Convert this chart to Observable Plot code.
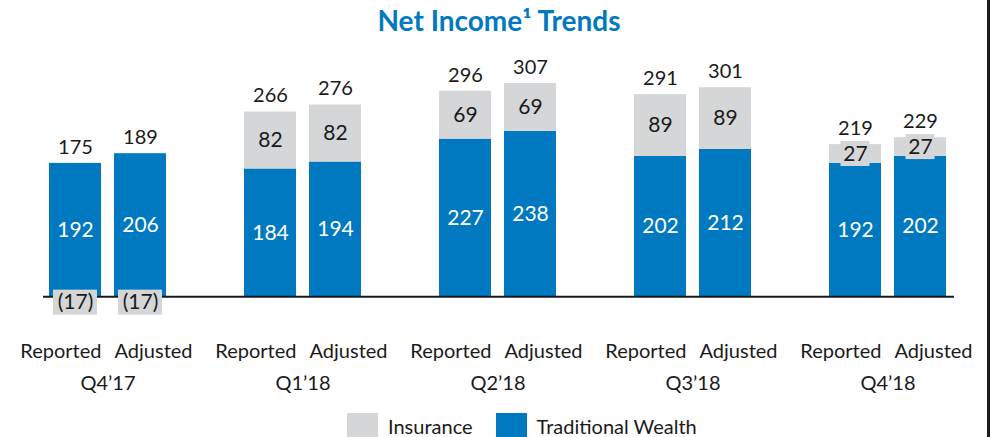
<!DOCTYPE html>
<html>
<head>
<meta charset="utf-8">
<script src="https://cdn.jsdelivr.net/npm/d3@7"></script>
<script src="https://cdn.jsdelivr.net/npm/@observablehq/plot@0.6"></script>
<style>
  html, body { margin: 0; padding: 0; background: #fff; }
  body { width: 996px; height: 437px; overflow: hidden; position: relative; font-family: Lato, "Open Sans", sans-serif; color: #1a1a1a; }
  #title { height: 40px; line-height: 40px; text-align: center; font-weight: 700; font-size: 28px; color: #0079c1; padding-left: 2px; }
  #legend { display: flex; align-items: flex-start; padding-left: 347px; margin-top: 3px; font-size: 20px; }
  .item { display: flex; align-items: flex-start; margin-right: 23px; }
  .sw { width: 31px; height: 31px; margin-right: 10px; }
  .lb { line-height: 18px; margin-top: 4px; white-space: nowrap; }
  #frame { position: absolute; left: 987px; top: 0; width: 3px; height: 437px; background: #1a1a1a; }
</style>
</head>
<body>
<div id="title">Net Income¹ Trends</div>
<div id="chart"></div>
<div id="legend"></div>
<div id="frame"></div>
<script>
const quarters = ["Q4’17", "Q1’18", "Q2’18", "Q3’18", "Q4’18"];
const measures = ["Reported", "Adjusted"];
const traditionalWealth = [192, 206, 184, 194, 227, 238, 202, 212, 192, 202];
const insurance = [-17, -17, 82, 82, 69, 69, 89, 89, 27, 27];
const totals = [175, 189, 266, 276, 296, 307, 291, 301, 219, 229];
const seriesNames = ["Insurance", "Traditional Wealth"];
const seriesColors = ["#d5d6d8", "#0079c1"];

const rows = traditionalWealth.map((tw, i) => ({
  q: quarters[Math.floor(i / 2)],
  m: measures[i % 2],
  tw,
  ins: insurance[i],
  total: totals[i],
  insMid: insurance[i] < 0 ? insurance[i] / 2 : tw + insurance[i] / 2,
  top: tw + Math.max(insurance[i], 0)
}));
const pos = rows.filter(d => d.ins > 0);
const neg = rows.filter(d => d.ins < 0);
const BOX = 18;

const chart = Plot.plot({
  width: 996,
  height: 370,
  marginTop: 34,
  marginBottom: 86,
  marginLeft: 9,
  marginRight: 10,
  style: { fontSize: "20px", fontFamily: "Lato, 'Open Sans', sans-serif", color: "#1a1a1a", background: "transparent" },
  fx: { domain: quarters, padding: 0, label: null },
  x: { domain: measures, paddingInner: 0.2, paddingOuter: 0.6, label: null },
  y: { domain: [-40, 320], axis: null },
  marks: [
    Plot.barY(rows, { fx: "q", x: "m", y1: 0, y2: "tw", fill: seriesColors[1] }),
    Plot.barY(pos, { fx: "q", x: "m", y1: "tw", y2: d => d.tw + d.ins, fill: seriesColors[0] }),
    Plot.ruleY(quarters.slice(0, 1), { fx: d => d, y: () => 0, stroke: "#1a1a1a", strokeWidth: 2, insetLeft: 33 }),
    Plot.ruleY(quarters.slice(1, 4), { fx: d => d, y: () => 0, stroke: "#1a1a1a", strokeWidth: 2 }),
    Plot.ruleY(quarters.slice(4), { fx: d => d, y: () => 0, stroke: "#1a1a1a", strokeWidth: 2, insetRight: 31 }),
    Plot.barY(neg, { fx: "q", x: "m", y1: d => d.insMid - BOX, y2: d => d.insMid + BOX, fill: seriesColors[0], insetLeft: 4, insetRight: 4 }),
    Plot.barY(pos, { fx: "q", x: "m", y1: d => d.insMid - BOX, y2: d => d.insMid + BOX, fill: seriesColors[0], insetLeft: 11.5, insetRight: 11.5 }),
    Plot.text(rows, { fx: "q", x: "m", y: d => d.tw / 2, text: d => String(d.tw), fill: "white", fontSize: 21 }),
    Plot.text(rows, { fx: "q", x: "m", y: "insMid", text: d => d.ins < 0 ? `(${-d.ins})` : String(d.ins), fill: "#1a1a1a", fontSize: 21 }),
    Plot.text(rows, { fx: "q", x: "m", y: "top", dy: -16, text: d => String(d.total), fill: "#1a1a1a", fontSize: 20 }),
    Plot.axisX([measures[0]], { anchor: "bottom", tickSize: 0, tickPadding: 19, label: null, fontSize: 20, textAnchor: "end", dx: 26 }),
    Plot.axisX([measures[1]], { anchor: "bottom", tickSize: 0, tickPadding: 19, label: null, fontSize: 20, textAnchor: "start", dx: -26 }),
    Plot.axisFx({ anchor: "bottom", tickSize: 0, tickPadding: 51, label: null, fontSize: 20 })
  ]
});
document.getElementById("chart").appendChild(chart);

const legend = document.getElementById("legend");
seriesNames.forEach((name, i) => {
  const item = document.createElement("div");
  item.className = "item";
  const sw = document.createElement("div");
  sw.className = "sw";
  sw.style.background = seriesColors[i];
  const label = document.createElement("span");
  label.className = "lb";
  label.textContent = name;
  item.appendChild(sw);
  item.appendChild(label);
  legend.appendChild(item);
});
</script>
</body>
</html>
